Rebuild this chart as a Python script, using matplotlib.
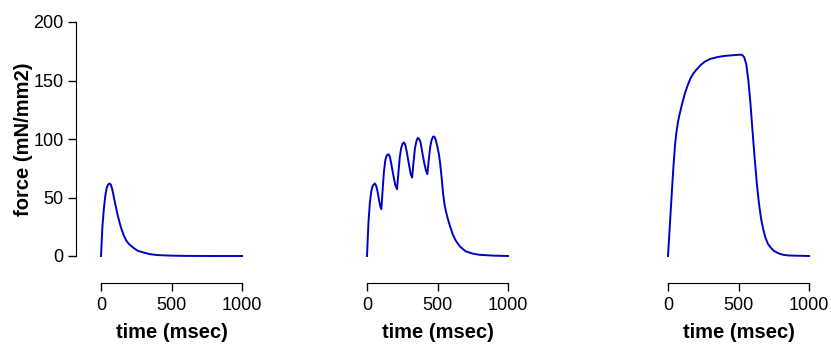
import matplotlib
matplotlib.use('Agg')
import matplotlib.pyplot as plt

plt.rcParams['font.family'] = ['Liberation Sans', 'DejaVu Sans']

# single twitch
twitch_t = [0, 10, 20, 30, 40, 50, 60, 70, 80, 90, 100, 120, 140, 160, 180, 200,
            230, 260, 300, 350, 400, 500, 600, 800, 1000]
twitch_f = [0, 25, 40, 51, 58, 61, 62, 61, 57, 51, 45, 34, 25, 18, 13, 10,
            7, 4.5, 3, 1.5, 0.8, 0.3, 0.1, 0, 0]

# unfused tetanus
unfused_t = [0, 10, 20, 30, 40, 55, 65, 75, 85, 95, 102, 110, 120, 130, 140, 152,
             162, 172, 185, 200, 213, 222, 232, 242, 252, 262, 272, 282, 295, 310,
             320, 330, 340, 350, 360, 370, 380, 390, 405, 418, 428, 438, 448, 458,
             468, 478, 488, 498, 510, 520, 530, 540, 550, 560, 575, 590, 610, 630,
             660, 700, 750, 800, 900, 1000]
unfused_f = [0, 28, 45, 55, 60, 62, 60, 55, 48, 42, 40, 55, 72, 82, 86, 87,
             85, 79, 70, 61, 57, 70, 84, 92, 96, 97, 95, 89, 80, 70,
             67, 80, 92, 98, 101, 100, 97, 90, 80, 73, 70, 82, 93, 99,
             102, 102, 99, 94, 87, 78, 66, 53, 44, 38, 31, 25, 18, 13,
             8, 4, 2, 1, 0.3, 0]

# fused tetanus
fused_t = [0, 10, 20, 30, 40, 50, 60, 70, 80, 90, 100, 120, 140, 160, 180, 200,
           230, 260, 300, 350, 400, 450, 500, 525, 540, 555, 570, 585, 600, 615,
           630, 645, 660, 675, 690, 710, 730, 750, 780, 810, 850, 900, 1000]
fused_f = [0, 20, 40, 60, 79, 95, 106, 114, 120, 125, 130, 139, 146, 152, 156, 159,
           163, 166, 168.5, 170, 171, 171.5, 172, 172, 170, 164, 150, 130, 106, 83,
           62, 45, 32, 23, 16, 10, 7, 4.5, 2.5, 1.2, 0.5, 0.3, 0]

series = [(twitch_t, twitch_f), (unfused_t, unfused_f), (fused_t, fused_f)]
lefts = [101, 367, 668]
line_color = '#0000CD'

fig = plt.figure(figsize=(8.31, 3.45), dpi=100)
W, H = 831, 345

for i, (t, f) in enumerate(series):
    ax = fig.add_axes([lefts[i] / W, 1 - 256 / H, 141 / W, 234 / H])
    ax.plot(t, f, color=line_color, lw=1.4, clip_on=False)
    ax.set_xlim(0, 1000)
    ax.set_ylim(0, 200)
    ax.set_xticks([0, 500, 1000])
    ax.spines['top'].set_visible(False)
    ax.spines['right'].set_visible(False)
    ax.spines['bottom'].set_position(('outward', 19.5))
    ax.spines['left'].set_position(('outward', 18))
    ax.tick_params(labelsize=13, length=6, width=1, color='black', pad=3)
    ax.tick_params(axis='x', pad=4)
    ax.set_xlabel('time (msec)', fontsize=14.5, fontweight='bold', labelpad=6.5)
    if i == 0:
        ax.set_yticks([0, 50, 100, 150, 200])
        ax.set_ylabel('force (mN/mm2)', fontsize=14.5, fontweight='bold', labelpad=0)
    else:
        ax.spines['left'].set_visible(False)
        ax.set_yticks([])

fig.savefig('out.png', dpi=100)
